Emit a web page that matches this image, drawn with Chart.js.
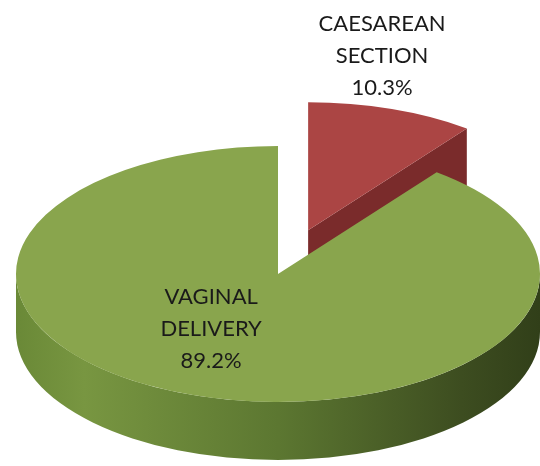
<!DOCTYPE html>
<html><head><meta charset="utf-8">
<script src="https://cdn.jsdelivr.net/npm/chart.js@4"></script>
<style>html,body{margin:0;padding:0;background:#fff}canvas{display:block}</style>
</head><body>
<canvas id="c" width="540" height="466"></canvas>
<script>
const categories = ['CAESAREAN SECTION', 'VAGINAL DELIVERY'];
const percentages = [10.3, 89.2];
const topColors = ['#ab4544', '#89a54d'];
const wallColors = ['#7a2b2b', '#5b7630'];
const sideStops = [
  [[0, '#8a3232'], [1, '#5e2020']],
  [[0, '#6a8937'], [0.13, '#789641'], [0.5, '#5c7731'], [0.85, '#3d4d20'], [1, '#313f19']]
];

const pie3d = {
  id: 'pie3d',
  beforeDatasetDraw(chart, args, o) {
    const ctx = chart.ctx;
    const els = args.meta.data;
    const geom = els.map((el, i) => {
      const p = el.getProps(['x', 'y', 'startAngle', 'endAngle', 'outerRadius'], true);
      const R = p.outerRadius;
      const mid = (p.startAngle + p.endAngle) / 2;
      const ex = o.explode[i] * o.rx * Math.cos(mid);
      const ey = o.explode[i] * o.ry * Math.sin(mid);
      return { el, p, sx: o.rx / R, sy: o.ry / R, cx: o.cx + ex, cy: o.cy + ey, s: p.startAngle, e: p.endAngle };
    });
    geom.forEach((g, i) => {
      // radial walls
      [[g.s, -1], [g.e, 1]].forEach(([a, dir]) => {
        const na = a + dir * Math.PI / 2;
        if (Math.sin(na) > 1e-3) {
          const px = g.cx + o.rx * Math.cos(a), py = g.cy + o.ry * Math.sin(a);
          ctx.beginPath();
          ctx.moveTo(g.cx, g.cy);
          ctx.lineTo(px, py);
          ctx.lineTo(px, py + o.depth);
          ctx.lineTo(g.cx, g.cy + o.depth);
          ctx.closePath();
          ctx.fillStyle = o.wallColors[i];
          ctx.fill();
        }
      });
      // outer curved wall
      for (let k = -1; k <= 1; k++) {
        const a = Math.max(g.s, k * 2 * Math.PI), b = Math.min(g.e, k * 2 * Math.PI + Math.PI);
        if (b > a) {
          ctx.beginPath();
          ctx.ellipse(g.cx, g.cy, o.rx, o.ry, 0, a, b);
          ctx.ellipse(g.cx, g.cy + o.depth, o.rx, o.ry, 0, b, a, true);
          ctx.closePath();
          const gr = ctx.createLinearGradient(g.cx - o.rx, 0, g.cx + o.rx, 0);
          o.sideStops[i].forEach(([t, c]) => gr.addColorStop(t, c));
          ctx.fillStyle = gr;
          ctx.fill();
        }
      }
      // top face, drawn by the library's arc element
      ctx.save();
      ctx.translate(g.cx, g.cy);
      ctx.scale(g.sx, g.sy);
      ctx.translate(-g.p.x, -g.p.y);
      g.el.draw(ctx);
      ctx.restore();
    });
    return false;
  },
  afterDatasetsDraw(chart, args, o) {
    const ctx = chart.ctx;
    const meta = chart.getDatasetMeta(0);
    const labels = chart.data.labels;
    const vals = chart.data.datasets[0].data;
    ctx.save();
    ctx.font = o.font;
    ctx.fillStyle = o.textColor;
    ctx.textAlign = 'center';
    ctx.textBaseline = 'middle';
    meta.data.forEach((el, i) => {
      const p = el.getProps(['startAngle', 'endAngle'], true);
      const mid = (p.startAngle + p.endAngle) / 2;
      const ex = o.explode[i] * o.rx * Math.cos(mid);
      const ey = o.explode[i] * o.ry * Math.sin(mid);
      const [angDeg, rf] = o.labelPos[i];
      const a = angDeg * Math.PI / 180;
      const lx = o.cx + ex + rf * o.rx * Math.cos(a);
      const ly = o.cy + ey + rf * o.ry * Math.sin(a);
      const lines = labels[i].split(' ').concat([vals[i].toFixed(1) + '%']);
      lines.forEach((t, j) => ctx.fillText(t, lx, ly + (j - (lines.length - 1) / 2) * o.lineHeight));
    });
    ctx.restore();
  }
};

new Chart(document.getElementById('c'), {
  type: 'pie',
  data: {
    labels: categories,
    datasets: [{
      data: percentages,
      backgroundColor: topColors,
      borderWidth: 0
    }]
  },
  options: {
    responsive: false,
    animation: false,
    events: [],
    layout: { padding: 0 },
    plugins: {
      legend: { display: false },
      tooltip: { enabled: false },
      pie3d: {
        cx: 278, cy: 274, rx: 262, ry: 128, depth: 58,
        explode: [0.36, 0],
        wallColors: wallColors,
        sideStops: sideStops,
        labelPos: [[-78.3, 1.392], [120.7, 0.5]],
        font: '22px Lato',
        textColor: '#1a1a1a',
        lineHeight: 32
      }
    }
  },
  plugins: [pie3d]
});
</script>
</body></html>
